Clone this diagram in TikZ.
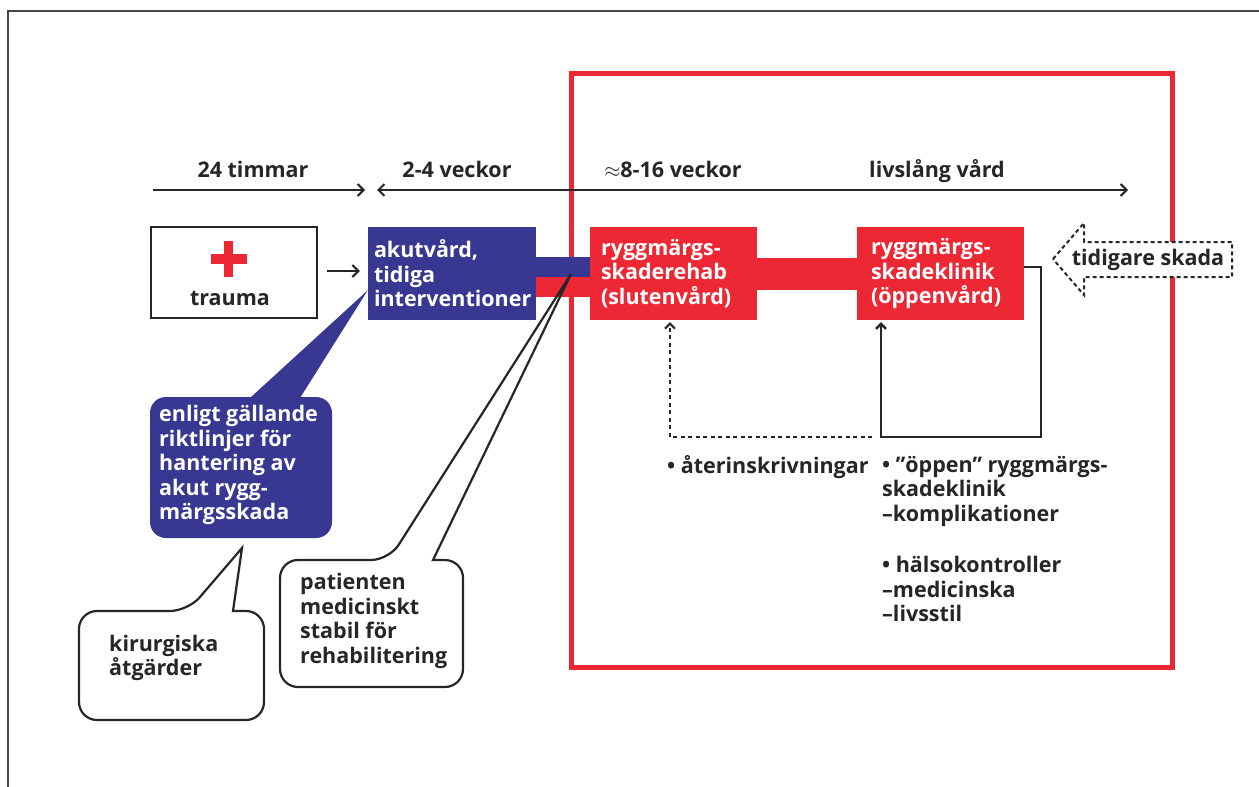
\documentclass[tikz,border=0pt]{standalone}
\usepackage{fontspec}
\setmainfont{Open Sans}
\usetikzlibrary{arrows.meta,calc}
\definecolor{rblue}{RGB}{56,56,146}
\definecolor{rred}{RGB}{237,40,52}
\definecolor{ink}{RGB}{38,38,38}
\definecolor{framegray}{RGB}{70,70,70}
\begin{document}
\begin{tikzpicture}[x=1pt,y=-1pt,
  lbl/.style={font=\fontsize{21.5}{24.5}\selectfont\bfseries, text=ink, inner sep=0pt, align=left},
  wlbl/.style={lbl, text=white},
  bluebox/.style={fill=rblue, draw=none, inner sep=0pt, minimum height=93pt},
  redbox/.style={fill=rred, draw=none, inner sep=0pt, minimum height=93pt},
  barb/.style={-{Straight Barb[length=6pt,width=12pt]}},
  sbarb/.style={-{Straight Barb[length=5pt,width=10pt]}},
  tl/.style={line width=2pt, draw=ink},
  conn/.style={line width=2.5pt, draw=ink},
  dotline/.style={line width=2pt, draw=ink, dash pattern=on 4pt off 3.5pt},
  callout/.style={draw=ink, line width=2.2pt},
]
\useasboundingbox (0,0) rectangle (1259,787);
% outer frame
\draw[framegray, line width=1.5pt] (8,787) -- (8,11) -- (1259,11);
% red frame
\draw[rred, line width=5pt] (571,73) rectangle (1172,667);

% timeline
\coordinate (t0) at (153,190);
\coordinate (t1) at (365,190);
\coordinate (t2) at (377,190);
\coordinate (t3) at (1128,190);
\draw[tl, barb] (t0) -- (t1);
\draw[tl, {Straight Barb[length=6pt,width=12pt]}-{Straight Barb[length=6pt,width=12pt]}] (t2) -- (t3);
\node[lbl, anchor=base] (l24) at (253,177) {24 timmar};
\node[lbl, anchor=base] (l24v) at (457,177) {2-4 veckor};
\node[lbl, anchor=base] (l816) at (673,177) {$\approx$8-16 veckor};
\node[lbl, anchor=base] (llivs) at (937,177) {livslång vård};

% bars
\fill[rred] (536,277) rectangle (591,297);
\fill[rblue] (536,257) rectangle (592,277);
\fill[rred] (757,258) rectangle (857,290);

% trauma
\node[draw=ink, line width=2.5pt, minimum width=166pt, minimum height=91pt, inner sep=0pt] (trauma) at (234,272.5) {};
\fill[rred] (228.5,259) ++(-18,-5) rectangle ++(36,10);
\fill[rred] (228.5,259) ++(-4.5,-18) rectangle ++(9,36);
\node[lbl, anchor=base] (traumalbl) at (230,305) {trauma};

% main boxes
\node[bluebox, minimum width=168pt] (akut) at (452,273.5) {};
\node[wlbl, anchor=west] (akutlbl) at ([xshift=6pt]akut.west) {akutvård,\\tidiga\\interventioner};
\node[redbox, minimum width=167pt] (rehab) at (673.5,273.5) {};
\node[wlbl, anchor=west] (rehablbl) at ([xshift=11pt]rehab.west) {ryggmärgs-\\skaderehab\\(slutenvård)};
\node[redbox, minimum width=167pt] (klinik) at (940.5,273.5) {};
\node[wlbl, anchor=west] (kliniklbl) at ([xshift=14pt]klinik.west) {ryggmärgs-\\skadeklinik\\(öppenvård)};

% trauma -> akut
\draw[tl, barb] ([xshift=9pt]trauma.east |- 0,271) -- ([xshift=-8pt]akut.west |- 0,271);

% loop connectors
\coordinate (loopR) at (1041,437);
\coordinate (loopL) at (881,437);
\draw[conn, sbarb, shorten >=2pt] ($(klinik.east)+(0,-6.5)$) -| (loopR) -- (loopL) -- (loopL |- klinik.south);
\coordinate (dR) at (872,437);
\coordinate (dL) at (670,437);
\draw[dotline, sbarb, shorten >=2pt] (dR) -- (dL) -- (dL |- rehab.south);

% lower texts
\node[lbl, anchor=west] (rein) at (667,467) {• återinskrivningar};
\node[lbl, anchor=north west] (oppen) at (882,456) {• ”öppen” ryggmärgs-\\skadeklinik\\–komplikationer\\[27pt]• hälsokontroller\\–medicinska\\–livsstil};

% blue callout
\fill[rblue, rounded corners=16pt] (150,397) rectangle (332,538);
\fill[rblue] (250,398) -- ($(akut.south west)+(0,-30)$) -- (300,398) -- cycle;
\node[wlbl, anchor=west] (guide) at (159,465) {enligt gällande\\riktlinjer för\\hantering av\\akut rygg-\\märgsskada};

% kirurgiska callout
\coordinate (kirtip) at (242,548);
\draw[callout] (188,611) -- (kirtip) -- (233,611) [rounded corners=18pt] -- (264,611) -- (264,720) -- (79,720) -- (79,611) -- cycle;
\node[lbl, anchor=west] (kir) at (109,658) {kirurgiska\\åtgärder};

% patient callout
\coordinate (pattip) at (571,274);
\draw[callout] (389,560) -- (pattip) -- (433,560) [rounded corners=18pt] -- (463,560) -- (463,687) -- (280,687) -- (280,560) -- cycle;
\node[lbl, anchor=west] (pat) at (300,621) {patienten\\medicinskt\\stabil för\\rehabilitering};

% tidigare skada arrow
\draw[ink, line width=2pt, dash pattern=on 4pt off 3pt, fill=white] (1053,259) -- (1084,223) -- (1084,242) -- (1232,242) -- (1232,277) -- (1084,277) -- (1084,295) -- cycle;
\node[lbl] (tidig) at (1148,260) {tidigare skada};
\end{tikzpicture}
\end{document}
